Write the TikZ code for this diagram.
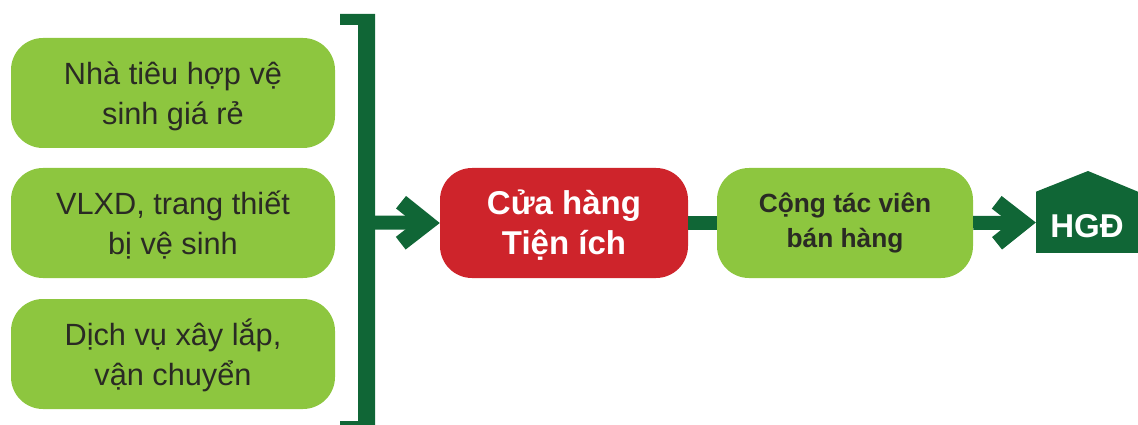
\documentclass[tikz,border=0pt]{standalone}
\usepackage{fontspec}
\setmainfont{Liberation Sans}
\usetikzlibrary{arrows.meta}
\definecolor{leafgreen}{HTML}{8DC63F}
\definecolor{darkgreen}{HTML}{106636}
\definecolor{shopred}{HTML}{CE242B}
\definecolor{inkdark}{HTML}{2A2A24}
\newcommand{\pairtext}[2]{\rule{0pt}{30pt}#1\\\rule[-7pt]{0pt}{7pt}#2}
\tikzset{
    itembox/.style={rectangle, fill=leafgreen, text=inkdark, rounded corners=32pt, minimum height=110pt, align=center, inner sep=0pt, font=\fontsize{30.7}{40.5}\selectfont},
    link/.style={darkgreen, line width=14pt},
    arrowlink/.style={link, -{Straight Barb[length=26pt, width=41pt, line width=16pt]}}
}
\begin{document}
\begin{tikzpicture}[x=1pt, y=-1pt]
    \useasboundingbox (0,0) rectangle (1138,425);
    \clip (0,0) rectangle (1138,425);

    % Left column (3 boxes)
    \node[itembox, minimum width=324pt] (B1) at (173,93) {\pairtext{Nhà tiêu hợp vệ}{sinh giá rẻ}};
    \node[itembox, minimum width=324pt] (B2) at (173,223) {\pairtext{VLXD, trang thiết}{bị vệ sinh}};
    \node[itembox, minimum width=324pt] (B3) at (173,354) {\pairtext{Dịch vụ xây lắp,}{vận chuyển}};

    % Bracket
    \fill[darkgreen] (340,14) -- (375,14) -- (375,425) -- (340,425) -- (340,421) -- (358,421) -- (358,25) -- (340,25) -- cycle;
    \coordinate (J) at (375,222.5);

    % Shop and sellers
    \node[itembox, fill=shopred, text=white, minimum width=248pt, font=\fontsize{33}{40.5}\selectfont\bfseries] (S) at (564,223) {\pairtext{Cửa hàng}{Tiện ích}};
    \node[itembox, minimum width=256pt, font=\fontsize{26.3}{35}\selectfont\bfseries] (C) at (845,223) {Cộng tác viên\\bán hàng};

    % Household
    \node[rectangle, fill=darkgreen, text=white, minimum width=102pt, minimum height=61pt, inner sep=0pt, text height=29pt, text depth=0pt, font=\fontsize{33}{36}\selectfont\bfseries] (H) at (1087,222.5) {HGĐ};
    \fill[darkgreen] (H.north west) -- (1088,171) -- (H.north east) -- cycle;

    % Connections
    \draw[arrowlink] (J) -- (S.west);
    \draw[link] (S.east) -- (C.west);
    \draw[arrowlink] (C.east) -- (H.west);
\end{tikzpicture}
\end{document}
